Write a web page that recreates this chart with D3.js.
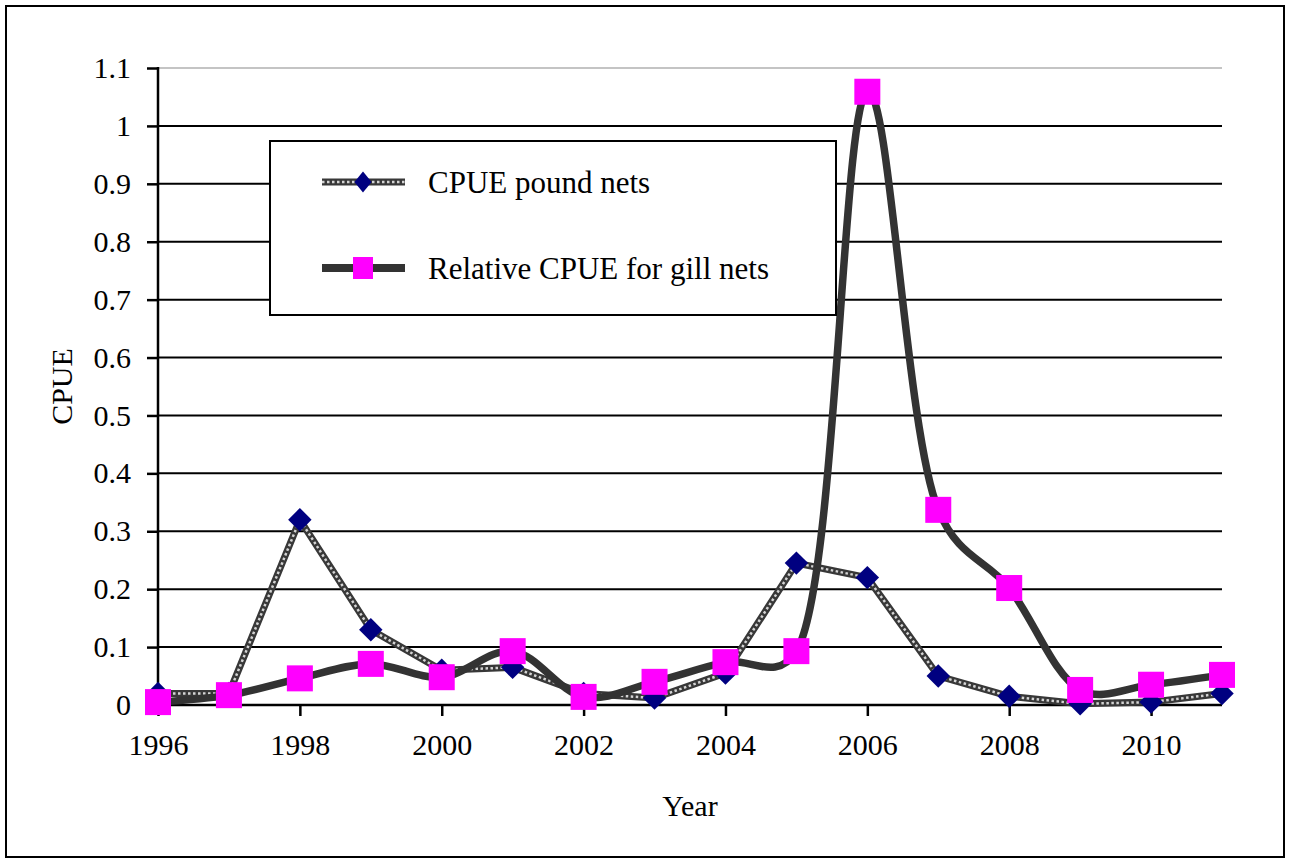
<!DOCTYPE html>
<html>
<head>
<meta charset="utf-8">
<script src="https://cdn.jsdelivr.net/npm/d3@7"></script>
<style>
  html, body { margin: 0; padding: 0; background: #fff; }
  svg { display: block; }
  svg text { font-family: 'Liberation Serif', 'Times New Roman', Times, serif !important; fill: #000; }
</style>
</head>
<body>
<svg id="chart" width="1290" height="863"></svg>
<script>
// Survey years and catch-per-unit-effort series
const years = [1996, 1997, 1998, 1999, 2000, 2001, 2002, 2003, 2004, 2005, 2006, 2007, 2008, 2009, 2010, 2011];
const poundNets = [0.02, 0.02, 0.32, 0.13, 0.06, 0.065, 0.02, 0.012, 0.055, 0.245, 0.22, 0.05, 0.015, 0.002, 0.005, 0.02];
const gillNets = [0.005, 0.017, 0.046, 0.071, 0.048, 0.093, 0.014, 0.04, 0.074, 0.093, 1.059, 0.337, 0.202, 0.026, 0.035, 0.052];
const xTickYears = [1996, 1998, 2000, 2002, 2004, 2006, 2008, 2010];
const yTickValues = [0, 0.1, 0.2, 0.3, 0.4, 0.5, 0.6, 0.7, 0.8, 0.9, 1, 1.1];
const seriesNames = ["CPUE pound nets", "Relative CPUE for gill nets"];

const svg = d3.select("#chart");
const plot = { left: 158, right: 1222, top: 68, bottom: 705 };

// Outer frame
svg.append("rect")
  .attr("x", 6).attr("y", 6).attr("width", 1278).attr("height", 851)
  .attr("fill", "#fff").attr("stroke", "#000").attr("stroke-width", 2);

const x = d3.scaleLinear().domain([1996, 2011]).range([plot.left, plot.right]);
const y = d3.scaleLinear().domain([0, 1.1]).range([plot.bottom, plot.top]);

// Horizontal gridlines (top one is light grey)
svg.append("g").selectAll("line")
  .data(yTickValues.filter(v => v > 0))
  .join("line")
  .attr("x1", plot.left).attr("x2", plot.right)
  .attr("y1", d => y(d)).attr("y2", d => y(d))
  .attr("stroke", d => d > 1.05 ? "#c4c4c4" : "#000")
  .attr("stroke-width", 2);

// Y axis
const yAxis = svg.append("g")
  .attr("transform", `translate(${plot.left},0)`)
  .call(d3.axisLeft(y).tickValues(yTickValues).tickSize(11).tickPadding(16)
    .tickFormat(d => String(+d.toFixed(1))))
  .call(g => g.select(".domain").remove());
yAxis.attr("font-size", 30).attr("font-family", null);
yAxis.selectAll(".tick line").attr("stroke", "#000").attr("stroke-width", 2.5);
svg.append("line")
  .attr("x1", plot.left).attr("x2", plot.left)
  .attr("y1", plot.top - 1).attr("y2", plot.bottom + 1)
  .attr("stroke", "#000").attr("stroke-width", 2.5);

// X axis
const xAxis = svg.append("g")
  .attr("transform", `translate(0,${plot.bottom})`)
  .call(d3.axisBottom(x).tickValues(xTickYears).tickSize(11).tickPadding(18)
    .tickFormat(d3.format("d")))
  .call(g => g.select(".domain").remove());
xAxis.attr("font-size", 30).attr("font-family", null);
xAxis.selectAll(".tick line").attr("stroke", "#000").attr("stroke-width", 2.5);
svg.append("line")
  .attr("x1", plot.left).attr("x2", plot.right)
  .attr("y1", plot.bottom).attr("y2", plot.bottom)
  .attr("stroke", "#000").attr("stroke-width", 2.5);

// Axis titles
svg.append("text")
  .attr("x", (plot.left + plot.right) / 2).attr("y", 816)
  .attr("text-anchor", "middle").attr("font-size", 30).text("Year");
svg.append("text")
  .attr("transform", `translate(72,${(plot.top + plot.bottom) / 2}) rotate(-90)`)
  .attr("text-anchor", "middle").attr("font-size", 30).text("CPUE");

const poundData = years.map((yr, i) => [yr, poundNets[i]]);
const gillData = years.map((yr, i) => [yr, gillNets[i]]);

// Pound nets: straight segments, dark line with light dotted core
const straight = d3.line().x(d => x(d[0])).y(d => y(d[1]));
function dottedLine(sel, d) {
  sel.append("path").attr("d", d).attr("fill", "none")
    .attr("stroke", "#383838").attr("stroke-width", 7);
  sel.append("path").attr("d", d).attr("fill", "none")
    .attr("stroke", "#d4d4d4").attr("stroke-width", 2.5)
    .attr("stroke-dasharray", "2.5 2.5");
}
const gPound = svg.append("g");
dottedLine(gPound, straight(poundData));

gPound.selectAll(".dia").data(poundData).join("path")
  .attr("class", "dia")
  .attr("d", d3.symbol().type(d3.symbolSquare2).size(350))
  .attr("transform", d => `translate(${x(d[0])},${y(d[1])}) rotate(45)`)
  .attr("fill", "#000080");

// Gill nets: smoothed line
const smooth = d3.line().curve(d3.curveCatmullRom.alpha(0.35))
  .x(d => x(d[0])).y(d => y(d[1]));
const gGill = svg.append("g");
gGill.append("path").attr("d", smooth(gillData)).attr("fill", "none")
  .attr("stroke", "#333").attr("stroke-width", 7.5);
const sq = 26;
gGill.selectAll(".sq").data(gillData).join("rect")
  .attr("class", "sq")
  .attr("x", d => x(d[0]) - sq / 2).attr("y", d => y(d[1]) - sq / 2)
  .attr("width", sq).attr("height", sq)
  .attr("fill", "#ff00ff");

// Legend
const legend = svg.append("g");
legend.append("rect")
  .attr("x", 270).attr("y", 141).attr("width", 566).attr("height", 174)
  .attr("fill", "#fff").attr("stroke", "#000").attr("stroke-width", 2);
const legRows = [182, 268];
dottedLine(legend, `M322,${legRows[0]}H405`);
legend.append("path")
  .attr("d", d3.symbol().type(d3.symbolSquare2).size(230))
  .attr("transform", `translate(363,${legRows[0]}) scale(0.9,1.1) rotate(45)`)
  .attr("fill", "#000080");
legend.append("path").attr("d", `M322,${legRows[1]}H405`)
  .attr("stroke", "#333").attr("stroke-width", 8);
legend.append("rect")
  .attr("x", 363 - 10).attr("y", legRows[1] - 11).attr("width", 20).attr("height", 22)
  .attr("fill", "#ff00ff");
legend.selectAll(".lt").data(seriesNames).join("text")
  .attr("class", "lt")
  .attr("x", 428).attr("y", (d, i) => legRows[i] + 11)
  .attr("font-size", 31).text(d => d);
</script>
</body>
</html>
